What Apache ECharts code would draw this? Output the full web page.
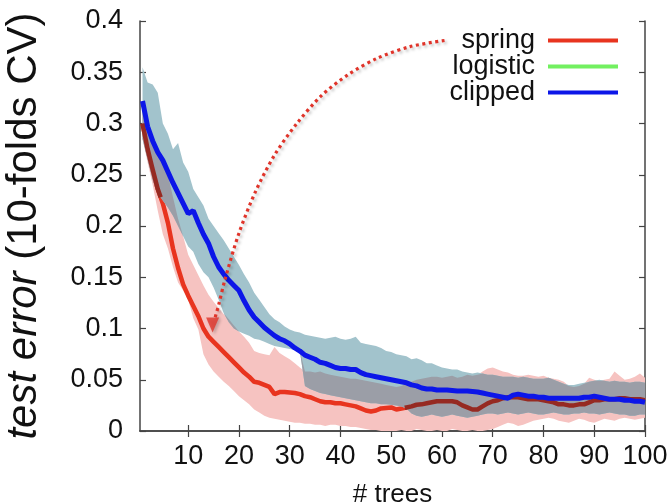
<!DOCTYPE html>
<html>
<head>
<meta charset="utf-8">
<script src="https://cdn.jsdelivr.net/npm/echarts@6/dist/echarts.min.js"></script>
<style>html,body{margin:0;padding:0;background:#fff}#c{width:672px;height:504px}</style>
</head>
<body>
<div id="c"></div>
<script>
const trees = [1,2,3,4,5,6,7,8,9,10,11,12,13,14,15,16,17,18,19,20,21,22,23,24,25,26,27,28,29,30,31,32,33,34,35,36,37,38,39,40,41,42,43,44,45,46,47,48,49,50,51,52,53,54,55,56,57,58,59,60,61,62,63,64,65,66,67,68,69,70,71,72,73,74,75,76,77,78,79,80,81,82,83,84,85,86,87,88,89,90,91,92,93,94,95,96,97,98,99,100];

const springMean = [0.300,0.275,0.255,0.236,0.222,0.203,0.178,0.159,0.143,0.132,
0.122,0.112,0.100,0.092,0.087,0.082,0.077,0.072,0.067,0.062,
0.057,0.053,0.048,0.047,0.045,0.043,0.036,0.038,0.038,0.0375,
0.037,0.036,0.034,0.033,0.031,0.029,0.028,0.028,0.027,0.027,
0.026,0.025,0.024,0.022,0.020,0.019,0.020,0.022,0.0225,0.023,
0.021,0.022,0.023,0.024,0.0256,0.026,0.027,0.028,0.029,0.029,
0.029,0.029,0.028,0.025,0.023,0.021,0.021,0.024,0.027,0.029,
0.030,0.032,0.033,0.033,0.033,0.032,0.031,0.031,0.031,0.030,
0.029,0.028,0.026,0.026,0.025,0.025,0.026,0.026,0.028,0.030,
0.030,0.031,0.031,0.031,0.032,0.032,0.031,0.031,0.031,0.030];

const springUpper = [0.315,0.300,0.287,0.273,0.262,0.250,0.228,0.207,0.190,0.172,
0.162,0.152,0.142,0.133,0.126,0.120,0.114,0.109,0.103,0.097,
0.092,0.086,0.078,0.076,0.075,0.074,0.082,0.076,0.073,0.070,
0.066,0.062,0.058,0.058,0.057,0.058,0.056,0.055,0.054,0.053,
0.052,0.051,0.051,0.050,0.049,0.048,0.047,0.046,0.045,0.044,
0.043,0.044,0.046,0.048,0.050,0.051,0.052,0.053,0.053,0.052,
0.053,0.054,0.052,0.053,0.055,0.054,0.055,0.058,0.061,0.062,
0.060,0.058,0.057,0.055,0.054,0.054,0.055,0.054,0.053,0.054,
0.052,0.051,0.050,0.048,0.044,0.043,0.044,0.046,0.052,0.050,
0.049,0.050,0.051,0.058,0.054,0.050,0.051,0.053,0.056,0.052];

const springLower = [0.285,0.262,0.240,0.215,0.192,0.178,0.160,0.145,0.137,0.128,
0.110,0.099,0.075,0.065,0.058,0.053,0.048,0.044,0.039,0.034,
0.030,0.026,0.021,0.018,0.015,0.013,0.012,0.011,0.010,0.009,
0.008,0.008,0.007,0.007,0.006,0.006,0.005,0.006,0.006,0.005,
0.005,0.004,0.004,0.003,0.002,0.001,0.001,0.000,0.000,0.000,
0.000,0.001,0.000,0.000,0.002,0.001,0.000,0.000,0.001,0.000,
0.000,0.002,0.001,0.000,0.000,0.001,0.000,0.000,0.001,0.002,
0.004,0.006,0.008,0.007,0.005,0.006,0.008,0.010,0.011,0.012,
0.013,0.012,0.010,0.009,0.008,0.010,0.012,0.011,0.009,0.008,
0.010,0.012,0.011,0.010,0.012,0.013,0.012,0.011,0.012,0.013];

const clippedMean = [0.322,0.297,0.283,0.272,0.264,0.253,0.242,0.232,0.222,0.212,
0.215,0.203,0.192,0.183,0.170,0.160,0.153,0.147,0.142,0.137,
0.127,0.118,0.111,0.106,0.101,0.097,0.093,0.090,0.088,0.085,
0.081,0.078,0.074,0.072,0.070,0.067,0.066,0.064,0.062,0.061,
0.061,0.060,0.060,0.057,0.055,0.054,0.053,0.052,0.051,0.050,
0.049,0.048,0.047,0.045,0.044,0.042,0.041,0.041,0.040,0.040,
0.040,0.0395,0.039,0.039,0.039,0.0385,0.038,0.037,0.036,0.035,
0.034,0.033,0.032,0.035,0.036,0.035,0.034,0.034,0.033,0.033,
0.032,0.032,0.032,0.032,0.032,0.032,0.032,0.033,0.033,0.034,
0.033,0.032,0.031,0.031,0.031,0.030,0.030,0.029,0.029,0.028];

const clippedUpper = [0.355,0.340,0.338,0.330,0.300,0.290,0.275,0.281,0.262,0.253,
0.236,0.228,0.220,0.207,0.200,0.193,0.186,0.178,0.170,0.162,
0.153,0.145,0.135,0.128,0.121,0.114,0.109,0.106,0.102,0.099,
0.097,0.096,0.094,0.093,0.092,0.091,0.090,0.091,0.092,0.090,
0.089,0.090,0.092,0.086,0.085,0.084,0.083,0.081,0.078,0.077,
0.075,0.074,0.073,0.070,0.071,0.069,0.066,0.066,0.064,0.062,
0.061,0.060,0.060,0.058,0.057,0.056,0.057,0.056,0.055,0.055,
0.054,0.053,0.053,0.053,0.052,0.053,0.052,0.051,0.051,0.051,
0.052,0.050,0.048,0.046,0.045,0.045,0.046,0.047,0.048,0.049,
0.050,0.049,0.048,0.049,0.048,0.048,0.047,0.048,0.048,0.047];

const clippedLower = [0.285,0.265,0.245,0.232,0.225,0.218,0.210,0.200,0.190,0.180,
0.175,0.163,0.155,0.150,0.140,0.128,0.115,0.106,0.100,0.097,
0.095,0.093,0.090,0.089,0.087,0.085,0.083,0.082,0.081,0.080,
0.079,0.078,0.044,0.041,0.039,0.037,0.036,0.035,0.034,0.033,
0.032,0.031,0.030,0.029,0.028,0.027,0.027,0.026,0.026,0.0255,
0.025,0.024,0.022,0.017,0.015,0.014,0.015,0.016,0.015,0.014,
0.015,0.016,0.015,0.014,0.013,0.014,0.015,0.016,0.017,0.017,
0.016,0.017,0.018,0.017,0.016,0.017,0.018,0.017,0.016,0.016,
0.017,0.018,0.017,0.016,0.016,0.017,0.017,0.018,0.017,0.017,
0.016,0.017,0.018,0.017,0.016,0.016,0.015,0.015,0.016,0.016];

const xTicks = [10,20,30,40,50,60,70,80,90,100];
const legendNames = ['spring','logistic','clipped'];

// annotation arrow path (data units)
const arrowX = [60.5, 53.7, 47.4, 41.6, 36.2, 31.4, 27.1, 23.3, 20.0, 17.2, 16.0, 15.2];
const arrowY = [0.381, 0.375, 0.364, 0.348, 0.327, 0.300, 0.270, 0.234, 0.193, 0.147, 0.123, 0.109];
const arrowTip = [14.8, 0.1035];

const FONT = "'Liberation Sans', Arial, Helvetica, sans-serif";
const RED = '#e8341f', DARKRED = '#962a22', GREEN = '#72f060', BLUE = '#0c16e8';
const PINK = '#f6c3c1', TEAL = '#a2c3cc', GRAY = '#9b9ea7';
const N = trees.length;

function polygonSeries(getLo, getHi, fill, z) {
  return {
    type: 'custom', z: z, silent: true, clip: true,
    data: trees.map((x, i) => [x, getLo(i), getHi(i)]),
    encode: { x: 0, y: [1, 2] },
    renderItem: function (params, api) {
      if (params.dataIndex !== 0) return null;
      const pts = [];
      for (let i = 0; i < N; i++) pts.push(api.coord([trees[i], getHi(i)]));
      for (let i = N - 1; i >= 0; i--) pts.push(api.coord([trees[i], getLo(i)]));
      return { type: 'polygon', shape: { points: pts }, style: { fill: fill } };
    }
  };
}

// pieces of the spring line lying inside the clipped band (they look darker there)
function insideRuns(ys, lo, hi) {
  const runs = []; let cur = null;
  for (let i = 0; i < N - 1; i++) {
    const x0 = trees[i], x1 = trees[i + 1];
    let t0 = 0, t1 = 1;
    [[hi[i] - ys[i], hi[i + 1] - ys[i + 1]], [ys[i] - lo[i], ys[i + 1] - lo[i + 1]]].forEach(function (p) {
      const a = p[0], b = p[1];
      if (a >= 0 && b >= 0) return;
      if (a < 0 && b < 0) { t0 = 1; t1 = 0; return; }
      const tc = a / (a - b);
      if (a < 0) t0 = Math.max(t0, tc); else t1 = Math.min(t1, tc);
    });
    if (t1 <= t0) { if (cur) { runs.push(cur); cur = null; } continue; }
    const p0 = [x0 + (x1 - x0) * t0, ys[i] + (ys[i + 1] - ys[i]) * t0];
    const p1 = [x0 + (x1 - x0) * t1, ys[i] + (ys[i + 1] - ys[i]) * t1];
    if (cur && t0 === 0) cur.push(p1); else { if (cur) runs.push(cur); cur = [p0, p1]; }
    if (t1 < 1) { runs.push(cur); cur = null; }
  }
  if (cur) runs.push(cur);
  return runs;
}

const chart = echarts.init(document.getElementById('c'), null, { renderer: 'canvas' });
const axisLine = { show: true, lineStyle: { color: '#444', width: 1.5 } };
const tickStyle = { color: '#444', width: 1.2 };
const option = {
  backgroundColor: '#fff',
  animation: false,
  grid: { left: 140, right: 27, top: 21, bottom: 73, containLabel: false, outerBoundsMode: 'none' },
  legend: {
    orient: 'vertical', align: 'right', right: 49, top: 22,
    itemWidth: 70, itemHeight: 4, itemGap: -1,
    textStyle: { fontFamily: FONT, fontSize: 27, color: '#111', padding: [0, 8, 0, 0] },
    data: [
      { name: legendNames[0], icon: 'rect', itemStyle: { color: RED } },
      { name: legendNames[1], icon: 'rect', itemStyle: { color: GREEN } },
      { name: legendNames[2], icon: 'rect', itemStyle: { color: BLUE } }
    ]
  },
  xAxis: [{
    type: 'value', position: 'bottom', min: 0.5, max: 100,
    name: '# trees', nameLocation: 'middle', nameGap: 51,
    nameTextStyle: { fontFamily: FONT, fontSize: 26, color: '#111' },
    axisLine: axisLine,
    axisTick: { show: true, inside: true, length: 6, customValues: xTicks, lineStyle: tickStyle },
    axisLabel: { customValues: xTicks, fontFamily: FONT, fontSize: 27, color: '#111', margin: 12 },
    splitLine: { show: false }
  }, {
    type: 'value', position: 'top', min: 0.5, max: 100,
    axisLine: axisLine,
    axisTick: { show: true, inside: true, length: 6, customValues: xTicks, lineStyle: tickStyle },
    axisLabel: { show: false }, splitLine: { show: false }
  }],
  yAxis: [{
    type: 'value', position: 'left', min: 0, max: 0.4, interval: 0.05,
    name: '{i|test error} (10-folds CV)', nameLocation: 'middle', nameGap: 95,
    nameTextStyle: { fontFamily: FONT, fontSize: 42, color: '#111',
      rich: { i: { fontStyle: 'italic', fontFamily: FONT, fontSize: 42, color: '#111' } } },
    axisLine: axisLine,
    axisTick: { show: true, inside: true, length: 6, lineStyle: tickStyle },
    axisLabel: { fontFamily: FONT, fontSize: 27, color: '#111', margin: 17 },
    splitLine: { show: false }
  }, {
    type: 'value', position: 'right', min: 0, max: 0.4, interval: 0.05,
    axisLine: axisLine,
    axisTick: { show: true, inside: true, length: 6, lineStyle: tickStyle },
    axisLabel: { show: false }, splitLine: { show: false }
  }],
  series: [
    polygonSeries(i => springLower[i], i => springUpper[i], PINK, 1),
    {
      name: 'spring', type: 'line', z: 2, symbol: 'none', showSymbol: false, clip: true,
      data: trees.map((x, i) => [x, springMean[i]]),
      lineStyle: { color: RED, width: 4.5 }, itemStyle: { color: RED }
    },
    { name: 'logistic', type: 'line', z: 2, symbol: 'none', data: [], lineStyle: { color: GREEN, width: 4 }, itemStyle: { color: GREEN } },
    polygonSeries(i => clippedLower[i], i => clippedUpper[i], TEAL, 3),
    // overlap of the two bands
    polygonSeries(
      i => Math.max(springLower[i], clippedLower[i]),
      i => Math.max(Math.min(springUpper[i], clippedUpper[i]), Math.max(springLower[i], clippedLower[i])),
      GRAY, 3.2),
    {
      type: 'custom', z: 3.5, silent: true, clip: true,
      data: trees.map((x, i) => [x, springMean[i]]),
      encode: { x: 0, y: 1 },
      renderItem: function (params, api) {
        if (params.dataIndex !== 0) return null;
        const runs = insideRuns(springMean, clippedLower, clippedUpper);
        return {
          type: 'group',
          children: runs.map(r => ({
            type: 'polyline',
            shape: { points: r.map(p => api.coord(p)) },
            style: { stroke: DARKRED, lineWidth: 4.5, fill: null, lineJoin: 'round', lineCap: 'butt' }
          }))
        };
      }
    },
    {
      name: 'clipped', type: 'line', z: 4, symbol: 'none', showSymbol: false, clip: true,
      data: trees.map((x, i) => [x, clippedMean[i]]),
      lineStyle: { color: BLUE, width: 5 }, itemStyle: { color: BLUE }
    },
    {
      name: 'arrow', type: 'line', z: 5, smooth: 0.3, symbol: 'none', showSymbol: false, silent: true,
      data: arrowX.map((x, i) => [x, arrowY[i]]),
      lineStyle: { color: '#e0342a', width: 3.2, type: [3, 3.5],
        shadowColor: 'rgba(0,0,0,0.25)', shadowBlur: 3, shadowOffsetX: 2, shadowOffsetY: 2 }
    },
    {
      name: 'arrowhead', type: 'scatter', z: 6, silent: true,
      symbol: 'triangle', symbolSize: [13, 15], symbolRotate: 180,
      data: [arrowTip], itemStyle: { color: '#e0342a', shadowColor: 'rgba(0,0,0,0.25)', shadowBlur: 3, shadowOffsetX: 2, shadowOffsetY: 2 }
    }
  ]
};
chart.setOption(option);
</script>
</body>
</html>
